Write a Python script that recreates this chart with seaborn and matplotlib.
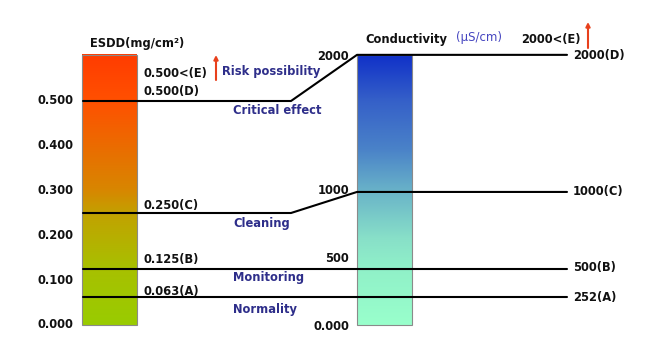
## Pollution class diagram: ESDD vs conductivity levels.
import numpy as np
import pandas as pd
import matplotlib
matplotlib.use("Agg")
import matplotlib.pyplot as plt
from matplotlib.colors import LinearSegmentedColormap
from matplotlib.patches import Rectangle
import seaborn as sns

# Data.
classes = ['A', 'B', 'C', 'D']
zones = ['Normality', 'Monitoring', 'Cleaning', 'Critical effect']
esdd_levels = [0.063, 0.125, 0.250, 0.500]
cond_levels = [252, 500, 1000, 2000]
esdd_ticks = [0.0, 0.1, 0.2, 0.3, 0.4, 0.5]
cond_ticks = [0, 500, 1000, 2000]
# Where the conductivity ticks sit on the shared vertical (ESDD) scale.
cond_tick_pos = [0.0, 0.125, 0.297, 0.603]
bar_top = 0.603

sns.set_style("white")
plt.rcParams['font.family'] = ['DejaVu Sans']

fig = plt.figure(figsize=(6.57, 3.51), dpi=100)
ax = fig.add_axes([0, 0, 1, 1])


def py(p):
    """Pixel row of the reference -> value on the ESDD scale."""
    return (325 - p) / 448.0


# Gradient bars.
esdd_cmap = LinearSegmentedColormap.from_list(
    'esdd', [(0, '#99CC00'), (0.21, '#A8C000'), (0.41, '#C2A200'),
             (0.5, '#D88600'), (0.83, '#FF5000'), (1, '#FF3C00')])
cond_cmap = LinearSegmentedColormap.from_list(
    'cond', [(0, '#99FFCC'), (0.21, '#90F0C8'), (0.32, '#88E0C8'),
             (0.49, '#6AB4C8'), (0.65, '#4A82C8'), (0.83, '#3560C8'), (1, '#1030C8')])
grad = np.linspace(0, 1, 256)[:, None]
for x0, x1, cmap in [(82, 137, esdd_cmap), (357, 412, cond_cmap)]:
    ax.imshow(grad, extent=[x0, x1, 0, bar_top], origin='lower', cmap=cmap,
              aspect='auto', zorder=1)
    ax.add_patch(Rectangle((x0, 0), x1 - x0, bar_top, fill=False,
                           edgecolor='#8a8a8a', lw=0.8, zorder=2))

# Level lines, ESDD side joined to conductivity side.
cond_pos = np.interp(cond_levels, cond_ticks, cond_tick_pos)
rows = []
for cls, e, c in zip(classes, esdd_levels, cond_pos):
    for xp, yv in zip([83, 291, 357, 567], [e, e, c, c]):
        rows.append({'cls': cls, 'x': xp, 'y': yv})
df = pd.DataFrame(rows)
sns.lineplot(data=df, x='x', y='y', units='cls', estimator=None, sort=False,
             color='black', lw=1.5, ax=ax, zorder=3, legend=False)

bold = dict(fontsize=8.3, fontweight='bold', color='#111111')
navy = dict(fontsize=8.3, fontweight='bold', color='#2E2E8A')

# ESDD tick labels.
for t in esdd_ticks:
    ax.text(73, t, f'{t:.3f}', ha='right', va='center', **bold)
# Conductivity tick labels.
cond_label_y = [326, 259, 191, 57]
for t, p in zip(cond_ticks, cond_label_y):
    ax.text(349, py(p), '0.000' if t == 0 else f'{t}', ha='right', va='center', **bold)

# Class labels and zone names.
esdd_label_y = [291, 259, 205, 92]
zone_y = [310, 277, 224, 111]
cond_label_row = [297, 268, 192, 56]
for cls, e, c, z, ly, zy, cy in zip(classes, esdd_levels, cond_levels, zones,
                                    esdd_label_y, zone_y, cond_label_row):
    ax.text(144, py(ly), f'{e:.3f}({cls})', ha='left', va='center', **bold)
    ax.text(233, py(zy), z, ha='left', va='center', **navy)
    ax.text(573, py(cy), f'{c}({cls})', ha='left', va='center', **bold)

# Headers.
ax.text(90, py(43), 'ESDD(mg/cm²)', ha='left', va='center', **bold)
ax.text(365, py(40), 'Conductivity', ha='left', va='center', **bold)
ax.text(456, py(38), '(μS/cm)', ha='left', va='center', fontsize=8.5, color='#4545C0')
ax.text(144, py(73), f'{esdd_levels[-1]:.3f}<(E)', ha='left', va='center', **bold)
ax.text(222, py(71), 'Risk possibility', ha='left', va='center', **navy)
ax.text(521, py(40), f'{cond_levels[-1]}<(E)', ha='left', va='center', **bold)

# Red "higher risk" arrows.
for xa, y0, y1 in [(216, 80, 55), (588, 48, 22)]:
    ax.annotate('', xy=(xa, py(y1)), xytext=(xa, py(y0)),
                arrowprops=dict(arrowstyle='-|>', color='#E8401C', lw=1.5,
                                mutation_scale=6, shrinkA=0, shrinkB=0))

ax.set_xlim(0, 657)
ax.set_ylim(py(351), py(0))
ax.set_axis_off()

plt.savefig('out.png', dpi=100)
